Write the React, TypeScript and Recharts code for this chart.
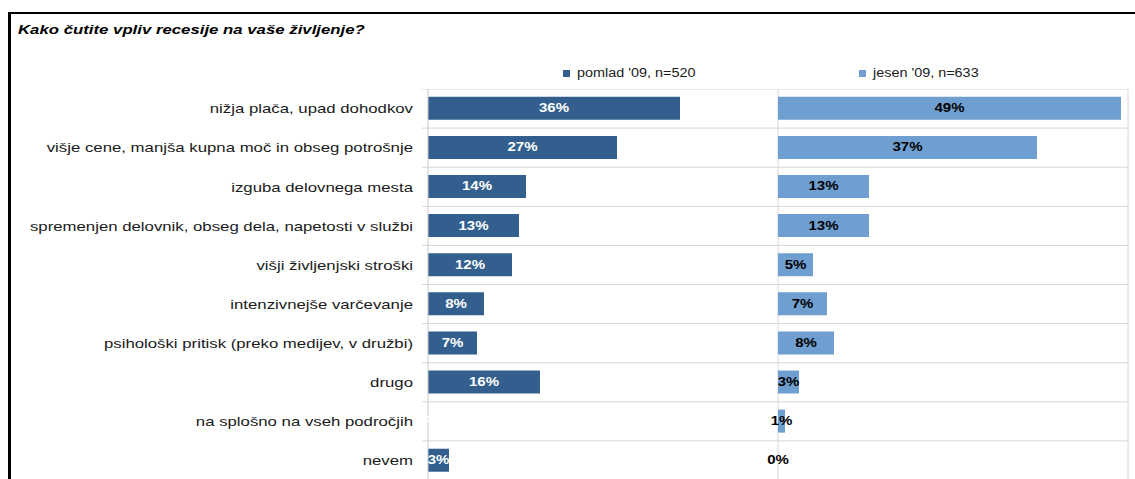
import { BarChart, Bar, XAxis, YAxis, CartesianGrid, LabelList } from 'recharts'

const categories = [
  'nižja plača, upad dohodkov',
  'višje cene, manjša kupna moč in obseg potrošnje',
  'izguba delovnega mesta',
  'spremenjen delovnik, obseg dela, napetosti v službi',
  'višji življenjski stroški',
  'intenzivnejše varčevanje',
  'psihološki pritisk (preko medijev, v družbi)',
  'drugo',
  'na splošno na vseh področjih',
  'nevem',
]
const spring09 = [36, 27, 14, 13, 12, 8, 7, 16, 0, 3]
const autumn09 = [49, 37, 13, 13, 5, 7, 8, 3, 1, 0]
const seriesNames = ["pomlad '09, n=520", "jesen '09, n=633"]

const data = categories.map((name, i) => ({ name, spring: spring09[i], autumn: autumn09[i] }))

const DARK = '#325f8e'
const LIGHT = '#6f9fd0'
const GRID = '#d6d6d6'
const FONT = '"Liberation Sans", Arial, sans-serif'
const PLOT_TOP = 89
const PLOT_H = 391
const BAND = PLOT_H / categories.length

// grid lines sit on the category boundaries, like Excel does
const boundaries = ({ offset }: any) =>
  categories.map((_, i) => offset.top + (i * offset.height) / categories.length)

// keep zero bars alive (hairline) so their "0%" label still gets drawn
const zeroKeeper = (value: any) => (Number(value) === 0 ? 0.01 : 0)

function CategoryTick({ x, y, payload }: any) {
  return (
    <g>
      <line x1={x + 9} x2={x + 15} y1={y - BAND / 2} y2={y - BAND / 2} stroke={GRID} />
      <text
        transform={`translate(${x} ${y}) scale(1.29 1)`}
        textAnchor="end"
        dominantBaseline="central"
        fontSize={13}
        fontFamily={FONT}
        fill="#1a1a1a"
      >
        {payload.value}
      </text>
    </g>
  )
}

const valueLabel = (color: string) => (props: any) => {
  const { x, y, width, height, value } = props
  const cx = Number(x) + Number(width) / 2
  const cy = Number(y) + Number(height) / 2
  return (
    <text
      transform={`translate(${cx} ${cy}) scale(1.25 1)`}
      textAnchor="middle"
      dominantBaseline="central"
      fontSize={12}
      fontWeight="bold"
      fontFamily={FONT}
      fill={color}
    >
      {value}%
    </text>
  )
}

function LegendItem({ color, label, left }: { color: string; label: string; left: number }) {
  return (
    <div style={{ position: 'absolute', left, top: 66, display: 'flex', alignItems: 'center' }}>
      <span style={{ width: 7, height: 7, background: color, display: 'inline-block', marginRight: 7 }} />
      <span style={{ fontSize: 12, color: '#1a1a1a', transform: 'scaleX(1.2)', transformOrigin: 'left', whiteSpace: 'nowrap' }}>
        {label}
      </span>
    </div>
  )
}

export default function App() {
  return (
    <div style={{ position: 'relative', width: 1135, height: 479, overflow: 'hidden', background: '#fff', fontFamily: FONT }}>
      <style>{'body{margin:0}'}</style>
      <div
        style={{
          position: 'absolute', left: 8, top: 12, width: 1200, height: 600,
          borderLeft: '3px solid #000', borderTop: '2px solid #000',
        }}
      />
      <div
        style={{
          position: 'absolute', left: 18, top: 22, fontSize: 13, fontWeight: 'bold', fontStyle: 'italic',
          transform: 'scaleX(1.29)', transformOrigin: 'left', whiteSpace: 'nowrap', color: '#000',
        }}
      >
        Kako čutite vpliv recesije na vaše življenje?
      </div>

      <LegendItem color={DARK} label={seriesNames[0]} left={563} />
      <LegendItem color={LIGHT} label={seriesNames[1]} left={859} />

      {/* left panel: spring '09 with category labels */}
      <div style={{ position: 'absolute', left: 0, top: PLOT_TOP }}>
        <BarChart width={778} height={PLOT_H} data={data} layout="vertical" barCategoryGap="20%"
          margin={{ top: 0, right: 0, bottom: 0, left: 0 }}>
          <CartesianGrid vertical={false} stroke={GRID} horizontalCoordinatesGenerator={boundaries} />
          <XAxis type="number" domain={[0, 50]} hide />
          <YAxis type="category" dataKey="name" width={428} tickSize={0} tickMargin={15}
            axisLine={{ stroke: '#c8c8c8' }} tickLine={false} tick={<CategoryTick />} interval={0} />
          <Bar dataKey="spring" fill={DARK} minPointSize={zeroKeeper} isAnimationActive={false}>
            <LabelList dataKey="spring" content={valueLabel('#fff')} />
          </Bar>
        </BarChart>
      </div>

      {/* right panel: autumn '09, wider svg on the left so centred labels of tiny bars are not clipped */}
      <div style={{ position: 'absolute', left: 740, top: PLOT_TOP }}>
        <BarChart width={390} height={PLOT_H} data={data} layout="vertical" barCategoryGap="20%"
          margin={{ top: 0, right: 2, bottom: 0, left: 38 }}>
          <CartesianGrid stroke={GRID} horizontalCoordinatesGenerator={boundaries}
            verticalCoordinatesGenerator={({ offset }: any) => [offset.left, offset.left + offset.width]} />
          <XAxis type="number" domain={[0, 50]} hide />
          <YAxis type="category" dataKey="name" hide />
          <Bar dataKey="autumn" fill={LIGHT} minPointSize={zeroKeeper} isAnimationActive={false}>
            <LabelList dataKey="autumn" content={valueLabel('#000')} />
          </Bar>
        </BarChart>
      </div>
    </div>
  )
}
